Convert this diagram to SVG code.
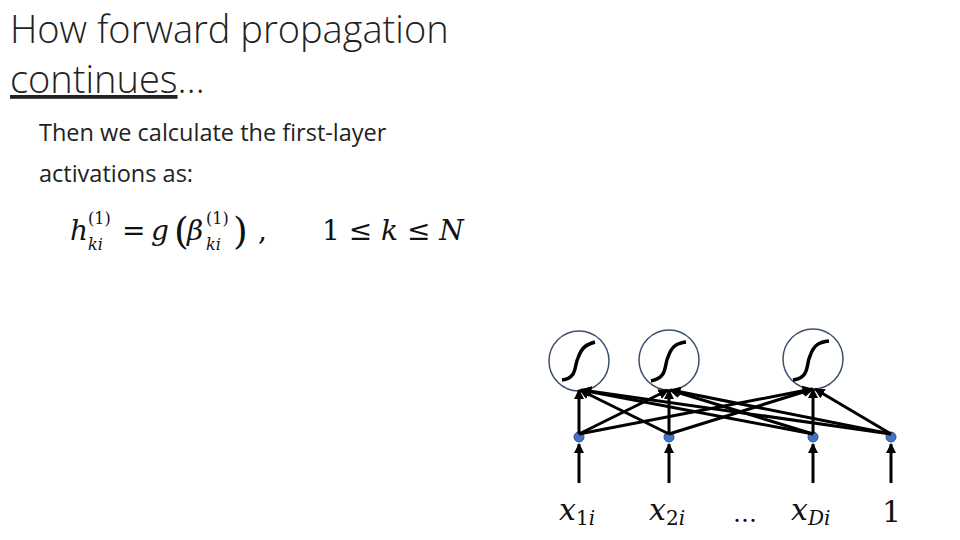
<svg xmlns="http://www.w3.org/2000/svg" width="960" height="540" viewBox="0 0 960 540">
<style>
.t{font-family:"Open Sans","Liberation Sans",sans-serif;fill:#222}
.m{font-family:"DejaVu Serif","Liberation Serif",serif;font-style:italic;fill:#111}
.r{font-family:"DejaVu Serif","Liberation Serif",serif;fill:#111}
line{stroke:#000;stroke-width:3;marker-end:url(#a)}
.n{fill:#fff;stroke:#3d4f6b;stroke-width:1.5}
.s{fill:none;stroke:#000;stroke-width:3.5}
.d{fill:#4472c4;stroke:#2f528f;stroke-width:1}
</style>
<defs><marker id="a" viewBox="0 0 10 10" refX="9" refY="5" markerWidth="3.5" markerHeight="3.5" orient="auto"><path d="M0,0L10,5L0,10z" fill="#000"/></marker></defs>
<rect width="960" height="540" fill="#fff"/>
<text class="t" x="10" y="43" font-size="38" font-weight="300">How forward propagation</text>
<text class="t" x="10" y="93" font-size="38" font-weight="300"><tspan text-decoration="underline">continues</tspan>…</text>
<text class="t" x="39" y="141" font-size="23.5">Then we calculate the first-layer</text>
<text class="t" x="39" y="182" font-size="23.5">activations as:</text>
<text class="m" x="70" y="240" font-size="28">h</text>
<text class="r" x="88" y="224" font-size="16">(1)</text>
<text class="m" x="88" y="250" font-size="16">ki</text>
<text class="r" x="122" y="240" font-size="28">=</text>
<text class="m" x="151" y="240" font-size="28">g</text>
<text class="r" x="174" y="244" font-size="38">(</text>
<text class="m" x="187" y="240" font-size="28">β</text>
<text class="r" x="206" y="224" font-size="16">(1)</text>
<text class="m" x="206" y="250" font-size="16">ki</text>
<text class="r" x="233" y="244" font-size="38">)</text>
<text class="r" x="258" y="240" font-size="28">,</text>
<text class="r" x="322" y="240" font-size="28">1 ≤ <tspan font-style="italic">k</tspan> ≤ <tspan font-style="italic">N</tspan></text>
<g id="x1"><circle class="d" cx="579" cy="437" r="5"/></g>
<g id="x2"><circle class="d" cx="669" cy="437" r="5"/></g>
<g id="xD"><circle class="d" cx="813" cy="437" r="5"/></g>
<g id="b"><circle class="d" cx="891" cy="437" r="5"/></g>
<g id="h1"><circle class="n" cx="579" cy="361" r="30"/><path class="s" d="M562,380 C578,378 574,365 578,358 C582,346 588,344 595,342"/></g>
<g id="h2"><circle class="n" cx="669" cy="360" r="30"/><path class="s" d="M651,381 C668,378 664,365 668,357 C672,345 678,343 686,342"/></g>
<g id="h3"><circle class="n" cx="813" cy="359" r="30"/><path class="s" d="M793,380 C810,378 806,364 810,356 C814,344 820,342 829,341"/></g>
<g id="connectors">
<line x1="579" y1="434" x2="579" y2="390"/><line x1="579" y1="434" x2="668" y2="390"/><line x1="579" y1="434" x2="812" y2="389"/>
<line x1="669" y1="434" x2="580" y2="390"/><line x1="669" y1="434" x2="669" y2="390"/><line x1="669" y1="434" x2="813" y2="389"/>
<line x1="813" y1="434" x2="581" y2="390"/><line x1="813" y1="434" x2="670" y2="390"/><line x1="813" y1="434" x2="813" y2="389"/>
<line x1="891" y1="434" x2="582" y2="390"/><line x1="891" y1="434" x2="671" y2="390"/><line x1="891" y1="434" x2="815" y2="389"/>
<line x1="579" y1="483" x2="579" y2="444"/><line x1="669" y1="483" x2="669" y2="444"/><line x1="813" y1="483" x2="813" y2="444"/><line x1="891" y1="483" x2="891" y2="444"/>
</g>
<text class="m" x="559" y="520" font-size="30">x<tspan font-size="20" font-style="normal" dy="5">1</tspan><tspan font-size="20">i</tspan></text>
<text class="m" x="649" y="520" font-size="30">x<tspan font-size="20" font-style="normal" dy="5">2</tspan><tspan font-size="20">i</tspan></text>
<text class="r" x="733" y="522" font-size="24">…</text>
<text class="m" x="791" y="520" font-size="30">x<tspan font-size="20" dy="5">Di</tspan></text>
<text class="r" x="882" y="522" font-size="30">1</text>
</svg>
